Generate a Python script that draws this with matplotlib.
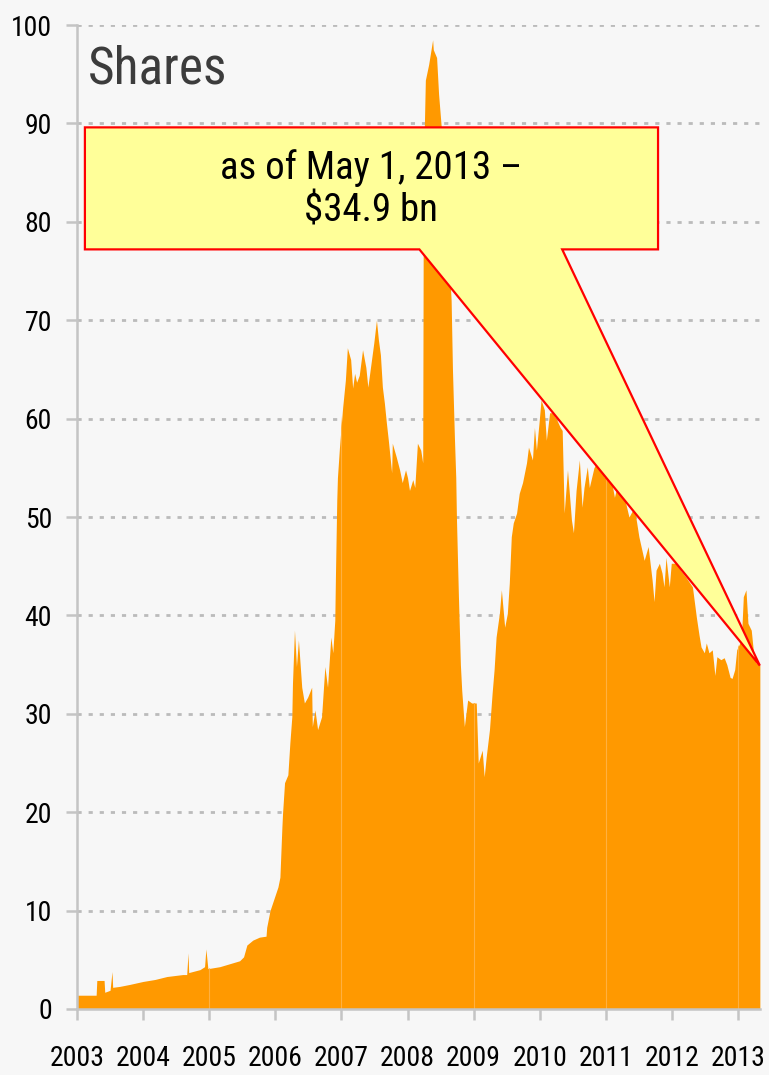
import matplotlib.pyplot as plt
from matplotlib.patches import Polygon

plt.rcParams['font.family'] = ['Roboto Condensed', 'DejaVu Sans']
plt.rcParams['font.stretch'] = 'condensed'

# weekly-ish readings, decimal year -> value ($ bn)
dates = [2003.00, 2003.29, 2003.30, 2003.41, 2003.42, 2003.50, 2003.53, 2003.54, 2003.65, 2003.80,
         2004.00, 2004.18, 2004.36, 2004.60, 2004.66, 2004.68, 2004.69, 2004.86, 2004.93, 2004.95,
         2004.98, 2005.16, 2005.31, 2005.46, 2005.52, 2005.57, 2005.66, 2005.76, 2005.86, 2005.87,
         2005.92, 2005.99, 2006.04, 2006.07, 2006.10, 2006.11, 2006.14, 2006.19, 2006.22, 2006.25,
         2006.26, 2006.29, 2006.32, 2006.35, 2006.40, 2006.44, 2006.49, 2006.55, 2006.56, 2006.60,
         2006.64, 2006.70, 2006.75, 2006.79, 2006.84, 2006.87, 2006.90, 2006.91, 2006.93, 2006.94,
         2006.97, 2007.02, 2007.06, 2007.09, 2007.14, 2007.17, 2007.20, 2007.23, 2007.27, 2007.32,
         2007.37, 2007.40, 2007.46, 2007.49, 2007.53, 2007.56, 2007.59, 2007.62, 2007.65, 2007.68,
         2007.71, 2007.76, 2007.77, 2007.83, 2007.88, 2007.92, 2007.97, 2008.00, 2008.03, 2008.08,
         2008.11, 2008.15, 2008.20, 2008.23, 2008.24, 2008.27, 2008.32, 2008.38, 2008.39, 2008.44,
         2008.47, 2008.53, 2008.59, 2008.63, 2008.66, 2008.68, 2008.71, 2008.73, 2008.74, 2008.77,
         2008.80, 2008.82, 2008.86, 2008.91, 2008.97, 2009.04, 2009.07, 2009.13, 2009.16, 2009.19,
         2009.24, 2009.28, 2009.31, 2009.34, 2009.39, 2009.42, 2009.47, 2009.51, 2009.54, 2009.57,
         2009.60, 2009.65, 2009.69, 2009.74, 2009.80, 2009.83, 2009.89, 2009.92, 2009.95, 2009.99,
         2010.02, 2010.07, 2010.10, 2010.15, 2010.19, 2010.25, 2010.31, 2010.34, 2010.37, 2010.42,
         2010.48, 2010.51, 2010.55, 2010.60, 2010.64, 2010.67, 2010.72, 2010.75, 2010.82, 2010.90,
         2010.98, 2011.05, 2011.13, 2011.20, 2011.28, 2011.35, 2011.43, 2011.50, 2011.58, 2011.64,
         2011.70, 2011.73, 2011.76, 2011.81, 2011.85, 2011.88, 2011.91, 2011.96, 2011.99, 2012.06,
         2012.14, 2012.21, 2012.31, 2012.37, 2012.41, 2012.44, 2012.49, 2012.52, 2012.56, 2012.61,
         2012.65, 2012.68, 2012.74, 2012.79, 2012.83, 2012.88, 2012.91, 2012.95, 2012.98, 2013.05,
         2013.08, 2013.12, 2013.15, 2013.20, 2013.23, 2013.27, 2013.33]
values = [1.4, 1.4, 2.9, 2.9, 1.7, 1.9, 3.8, 2.2, 2.3, 2.5,
          2.8, 3.0, 3.3, 3.5, 3.5, 5.7, 3.7, 4.0, 4.3, 6.1,
          4.1, 4.3, 4.6, 4.9, 5.3, 6.5, 7.0, 7.3, 7.4, 8.3,
          10.0, 11.4, 12.4, 13.4, 18.5, 19.9, 23.0, 23.8, 27.0, 29.7,
          33.1, 38.5, 34.8, 37.5, 32.7, 31.1, 31.7, 32.7, 28.7, 30.4,
          28.4, 29.7, 34.8, 32.7, 37.8, 36.2, 39.5, 44.0, 51.7, 54.0,
          57.0, 61.2, 63.9, 67.2, 66.0, 63.1, 64.6, 63.7, 64.4, 67.0,
          65.2, 63.2, 66.2, 67.7, 70.0, 68.0, 66.5, 63.2, 61.6, 59.6,
          57.8, 54.5, 57.5, 56.1, 54.8, 53.5, 54.8, 54.0, 52.7, 53.8,
          53.0, 57.5, 56.8, 55.5, 85.0, 94.4, 96.0, 98.5, 97.5, 96.7,
          93.0, 88.0, 82.0, 76.0, 72.0, 65.0, 58.0, 54.0, 50.0, 42.0,
          35.0, 32.4, 28.7, 31.4, 31.1, 31.1, 25.0, 26.3, 23.6, 25.6,
          28.4, 32.1, 34.5, 37.8, 40.2, 42.6, 38.8, 40.2, 43.3, 48.0,
          49.4, 50.4, 52.4, 53.5, 55.5, 57.1, 55.8, 59.1, 56.8, 59.6,
          61.9, 60.9, 57.8, 60.6, 60.6, 60.0, 59.1, 58.8, 50.4, 54.8,
          49.7, 48.4, 52.7, 55.8, 51.0, 53.0, 55.1, 53.0, 55.0, 56.0,
          54.0, 55.0, 52.0, 54.0, 52.0, 50.0, 51.0, 48.0, 45.6, 47.0,
          43.6, 41.4, 44.6, 45.3, 44.3, 42.9, 45.9, 42.9, 45.3, 45.3,
          44.5, 43.9, 42.9, 39.8, 38.0, 36.8, 36.2, 37.2, 36.2, 36.5,
          33.9, 35.8, 35.5, 35.7, 35.0, 33.7, 33.6, 34.5, 36.5, 37.5,
          41.9, 42.6, 39.2, 38.5, 36.5, 35.2, 34.9]

year_ticks = list(range(2003, 2014))
value_ticks = list(range(0, 101, 10))
title = "Shares"
callout = "as of May 1, 2013 \u2013\n$34.9 bn"

bg = '#F7F7F7'
fig = plt.figure(figsize=(7.69, 10.75), dpi=100, facecolor=bg)
ax = fig.add_axes([0.1001, 0.0614, 0.888, 0.9153], facecolor=bg)

ax.set_xlim(2003, dates[-1])
ax.set_ylim(0, 100)

ax.yaxis.grid(True, color='#BBBBBB', linewidth=2, linestyle=(0, (1.5, 2.5)))
ax.set_axisbelow(True)

poly = ax.fill_between(dates, values, 0, color='#FF9900', linewidth=0, zorder=2)
# faint seams in the fill at odd years
for yr in [2005, 2007, 2009, 2011, 2013]:
    ln = ax.axvline(yr, color='#FFB040', linewidth=0.8, zorder=2.5)
    ln.set_clip_path(poly.get_paths()[0], poly.get_transform())

for s in ['top', 'right']:
    ax.spines[s].set_visible(False)
for s in ['left', 'bottom']:
    ax.spines[s].set_color('#C4C4C4')
    ax.spines[s].set_linewidth(1.8)
    ax.spines[s].set_zorder(3)

ax.set_xticks(year_ticks)
ax.set_xticklabels([str(y) for y in year_ticks])
ax.set_yticks(value_ticks)
ax.tick_params(axis='both', colors='#C4C4C4', width=1.8, length=8, labelcolor='black')
ax.tick_params(axis='x', pad=18, labelsize=20)
ax.tick_params(axis='y', pad=10, labelsize=20)

ax.text(2003.17, 98.0, title, fontsize=37, color='#3C3C3C', va='top', ha='left')

# callout box with pointer to the last value
x0, x1, ytop, ybot = 2003.12, 2011.79, 89.6, 77.2
pl, pr = 2008.18, 2010.34
shape = [(x0, ytop), (x1, ytop), (x1, ybot), (pr, ybot), (dates[-1], values[-1]), (pl, ybot), (x0, ybot)]
ax.add_patch(Polygon(shape, closed=True, facecolor='#FFFF99', edgecolor='#FF0000',
                     linewidth=1.6, zorder=5, clip_on=False))
ax.text(2007.45, 83.3, callout, fontsize=28, ha='center', va='center', zorder=6, linespacing=1.2)

fig.savefig('out.png', dpi=100, facecolor=bg)
